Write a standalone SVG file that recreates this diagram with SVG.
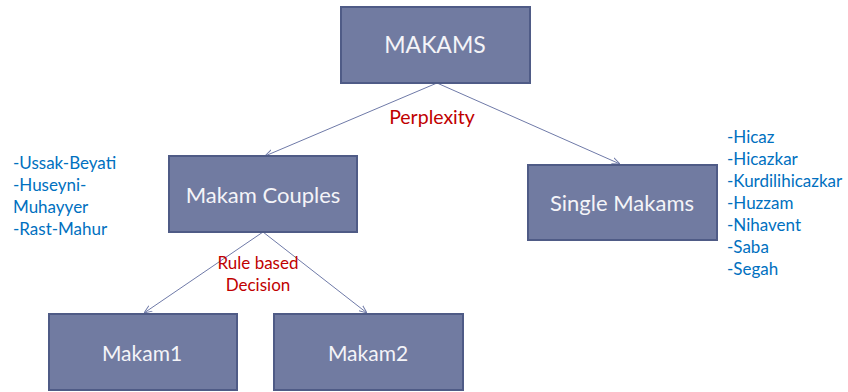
<svg xmlns="http://www.w3.org/2000/svg" width="848" height="392" viewBox="0 0 848 392">
<defs>
<marker id="arr" viewBox="0 0 10 10" refX="10" refY="5" markerWidth="8" markerHeight="8" orient="auto" markerUnits="userSpaceOnUse">
<path d="M0,1 L10,5 L0,9" fill="none" stroke="#6f7aa8" stroke-width="1.2"/>
</marker>
</defs>
<style>
.box{fill:#717ba1;stroke:#4f5b86;stroke-width:2}
.lbl{font-family:Lato,"Open Sans",sans-serif;fill:#f4f4f8;text-anchor:middle}
.edge{stroke:#6f7aa8;stroke-width:1;fill:none}
.red{font-family:Lato,"Open Sans",sans-serif;fill:#c00000;text-anchor:middle}
.blue{font-family:Lato,"Open Sans",sans-serif;fill:#0070c0;font-size:17px}
</style>
<rect width="848" height="392" fill="#ffffff"/>
<g id="connectors">
<line class="edge" x1="437" y1="83" x2="265" y2="156" marker-end="url(#arr)"/>
<line class="edge" x1="437" y1="83" x2="620" y2="164" marker-end="url(#arr)"/>
<line class="edge" x1="263" y1="232" x2="144" y2="313" marker-end="url(#arr)"/>
<line class="edge" x1="263" y1="232" x2="367" y2="313" marker-end="url(#arr)"/>
</g>
<g id="makams">
<rect class="box" x="341" y="7" width="189" height="76"/>
<text class="lbl" x="435" y="53" font-size="23">MAKAMS</text>
</g>
<g id="couples">
<rect class="box" x="169" y="156" width="188" height="76"/>
<text class="lbl" x="263" y="203" font-size="22">Makam Couples</text>
</g>
<g id="single">
<rect class="box" x="528" y="165" width="189" height="75"/>
<text class="lbl" x="622" y="211" font-size="22">Single Makams</text>
</g>
<g id="makam1">
<rect class="box" x="49" y="314" width="188" height="76"/>
<text class="lbl" x="142" y="361" font-size="21">Makam1</text>
</g>
<g id="makam2">
<rect class="box" x="274" y="314" width="189" height="76"/>
<text class="lbl" x="368" y="361" font-size="21">Makam2</text>
</g>
<text class="red" x="432" y="124" font-size="19.5">Perplexity</text>
<text class="red" x="258" y="269" font-size="17">Rule based</text>
<text class="red" x="258" y="291" font-size="17">Decision</text>
<g id="left-list" class="blue">
<text x="13" y="169">-Ussak-Beyati</text>
<text x="13" y="191">-Huseyni-</text>
<text x="13" y="213">Muhayyer</text>
<text x="13" y="235">-Rast-Mahur</text>
</g>
<g id="right-list" class="blue">
<text x="727" y="143">-Hicaz</text>
<text x="727" y="165">-Hicazkar</text>
<text x="727" y="187">-Kurdilihicazkar</text>
<text x="727" y="209">-Huzzam</text>
<text x="727" y="231">-Nihavent</text>
<text x="727" y="253">-Saba</text>
<text x="727" y="275">-Segah</text>
</g>
</svg>
